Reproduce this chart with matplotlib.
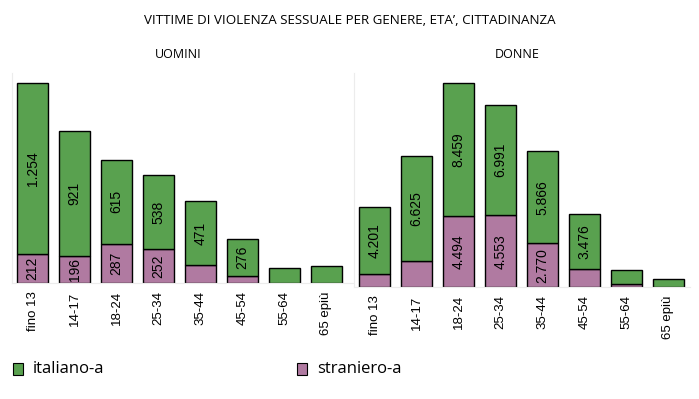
import matplotlib
matplotlib.use("Agg")
import matplotlib.pyplot as plt

categories = ["fino 13", "14-17", "18-24", "25-34", "35-44", "45-54", "55-64", "65 epiù"]

uomini_italiano = [1254, 921, 615, 538, 471, 276, 110, 125]
uomini_straniero = [212, 196, 287, 252, 130, 50, 0, 0]
donne_italiano = [4201, 6625, 8459, 6991, 5866, 3476, 890, 530]
donne_straniero = [850, 1680, 4494, 4553, 2770, 1170, 215, 0]

title = "VITTIME DI VIOLENZA SESSUALE PER GENERE, ETA’, CITTADINANZA"
panel_titles = ["UOMINI", "DONNE"]
series_names = ["italiano-a", "straniero-a"]

GREEN = "#59A14F"
PURPLE = "#B07AA1"

W, H = 699, 399
fig = plt.figure(figsize=(W / 100, H / 100), dpi=100)

def fmt(v):
    return f"{v:,}".replace(",", ".")

def panel(rect, ital, stra, ylim_top, ptitle, th_stra, th_ital):
    l, t, r, b = rect
    ax = fig.add_axes([l / W, 1 - b / H, (r - l) / W, (b - t) / H])
    x = list(range(len(categories)))
    ax.bar(x, stra, width=0.74, color=PURPLE, edgecolor="black", linewidth=1.0)
    ax.bar(x, ital, width=0.74, bottom=stra, color=GREEN, edgecolor="black", linewidth=1.0)
    for i in x:
        if stra[i] >= th_stra:
            ax.text(i, stra[i] / 2, fmt(stra[i]), rotation=90, ha="center", va="center",
                    fontsize=10, family="Liberation Sans", color="black")
        if ital[i] >= th_ital:
            ax.text(i, stra[i] + ital[i] / 2, fmt(ital[i]), rotation=90, ha="center", va="center",
                    fontsize=10, family="Liberation Sans", color="black")
    ax.set_xlim(-0.5, -0.5 + (r - l) / 42.0)
    ax.set_ylim(0, ylim_top)
    ax.set_xticks(x)
    ax.set_xticklabels(categories, rotation=90, fontsize=9.5, family="Liberation Sans")
    ax.tick_params(axis="x", length=0, pad=6)
    ax.set_yticks([])
    for s in ["top", "right"]:
        ax.spines[s].set_visible(False)
    for s in ["left", "bottom"]:
        ax.spines[s].set_color("#ececec")
        ax.spines[s].set_linewidth(0.8)
    fig.text(((l + r) / 2 - 5) / W, 1 - 55 / H, ptitle, ha="center", va="center",
             fontsize=9, family="Open Sans")
    return ax

panel((11.5, 73, 355, 283), uomini_italiano, uomini_straniero, 1540, panel_titles[0], 180, 250)
panel((353.5, 73, 690, 287), donne_italiano, donne_straniero, 13590, panel_titles[1], 2000, 3000)

fig.text(350 / W, 1 - 20 / H, title, ha="center", va="center", fontsize=9.6, family="Open Sans")

colors = [GREEN, PURPLE]
for c, name, xp in zip(colors, series_names, [13, 297]):
    fig.patches.append(plt.Rectangle((xp / W, 1 - 375 / H), 10 / W, 12 / H,
                                     facecolor=c, edgecolor="black",
                                     linewidth=0.8, transform=fig.transFigure))
    fig.text((xp + 20) / W, 1 - 369 / H, name, ha="left", va="center",
             fontsize=12, family="Open Sans")

fig.savefig("out.png", dpi=100)
